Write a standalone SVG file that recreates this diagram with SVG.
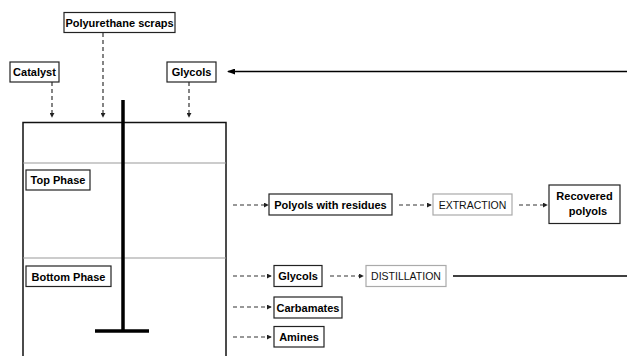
<svg xmlns="http://www.w3.org/2000/svg" width="627" height="356" viewBox="0 0 627 356">
<defs>
<marker id="ah" viewBox="0 0 6 6" refX="5" refY="3" markerWidth="5" markerHeight="5" orient="auto" markerUnits="userSpaceOnUse">
<path d="M0,0 L6,3 L0,6 z" fill="#222"/>
</marker>
<marker id="ahL" viewBox="0 0 8 6" refX="7" refY="3" markerWidth="8" markerHeight="6" orient="auto" markerUnits="userSpaceOnUse">
<path d="M0,0 L8,3 L0,6 z" fill="#000"/>
</marker>
<style>
.box{fill:#fff;stroke:#222;stroke-width:1.2}
.gbox{fill:#fff;stroke:#aaa;stroke-width:1.2}
.t{font-family:"Liberation Sans",Arial,sans-serif;font-size:11px;font-weight:bold;fill:#000;text-anchor:middle}
.tr{font-family:"Liberation Sans",Arial,sans-serif;font-size:10.5px;fill:#111;text-anchor:middle}
.d{stroke:#333;stroke-width:1.2;stroke-dasharray:4 3;fill:none;marker-end:url(#ah)}
.s{stroke:#000;stroke-width:1.5;fill:none}
</style>
</defs>
<g id="tank">
<rect x="23" y="122.5" width="203" height="250" fill="#fff" stroke="#111" stroke-width="1.5"/>
<line x1="23" y1="163" x2="226" y2="163" stroke="#999" stroke-width="1.2"/>
<line x1="23" y1="258" x2="226" y2="258" stroke="#999" stroke-width="1.2"/>
</g>
<g id="stirrer">
<line x1="123" y1="100" x2="123" y2="332" stroke="#000" stroke-width="3.5"/>
<line x1="95" y1="331" x2="149" y2="331" stroke="#000" stroke-width="3.5"/>
</g>
<g id="connectors">
<line class="d" x1="103" y1="33" x2="103" y2="117"/>
<line class="d" x1="52" y1="82" x2="52" y2="117"/>
<line class="d" x1="189" y1="82" x2="189" y2="117"/>
<line x1="627" y1="71.5" x2="228" y2="71.5" stroke="#000" stroke-width="1.5" marker-end="url(#ahL)"/>
<line class="d" x1="233" y1="205" x2="268" y2="205"/>
<line class="d" x1="399" y1="205" x2="431" y2="205"/>
<line class="d" x1="519" y1="205" x2="547" y2="205"/>
<line class="d" x1="233" y1="276" x2="271" y2="276"/>
<line class="d" x1="330" y1="276" x2="363" y2="276"/>
<line x1="453" y1="276" x2="627" y2="276" stroke="#000" stroke-width="1.5"/>
<line class="d" x1="233" y1="307" x2="271" y2="307"/>
<line class="d" x1="233" y1="337" x2="271" y2="337"/>
</g>
<g id="polyurethane-scraps">
<rect class="box" x="64" y="12.5" width="111" height="20"/>
<text class="t" x="119.5" y="26.5">Polyurethane scraps</text>
</g>
<g id="catalyst">
<rect class="box" x="10" y="62" width="49" height="20"/>
<text class="t" x="34.5" y="76">Catalyst</text>
</g>
<g id="glycols-in">
<rect class="box" x="167" y="62" width="49" height="20"/>
<text class="t" x="191.5" y="76">Glycols</text>
</g>
<g id="top-phase">
<rect class="box" x="26" y="170" width="64" height="20"/>
<text class="t" x="58" y="184">Top Phase</text>
</g>
<g id="bottom-phase">
<rect class="box" x="26" y="266" width="85" height="20.5"/>
<text class="t" x="68.5" y="280.5">Bottom Phase</text>
</g>
<g id="polyols-with-residues">
<rect class="box" x="269" y="194" width="123" height="21"/>
<text class="t" x="330.5" y="208.5">Polyols with residues</text>
</g>
<g id="extraction">
<rect class="gbox" x="433" y="194" width="79" height="21"/>
<text class="tr" x="472.5" y="208.5">EXTRACTION</text>
</g>
<g id="recovered-polyols">
<rect class="box" x="549" y="185" width="71" height="38.5"/>
<text class="t" x="584.5" y="200">Recovered</text>
<text class="t" x="588" y="215">polyols</text>
</g>
<g id="glycols-out">
<rect class="box" x="274" y="265.5" width="48" height="21"/>
<text class="t" x="298" y="280">Glycols</text>
</g>
<g id="distillation">
<rect class="gbox" x="366" y="265.5" width="80" height="21"/>
<text class="tr" x="406" y="280">DISTILLATION</text>
</g>
<g id="carbamates">
<rect class="box" x="274" y="297" width="68" height="21"/>
<text class="t" x="308" y="311.5">Carbamates</text>
</g>
<g id="amines">
<rect class="box" x="274" y="326.5" width="50" height="20.5"/>
<text class="t" x="299" y="341">Amines</text>
</g>
</svg>
